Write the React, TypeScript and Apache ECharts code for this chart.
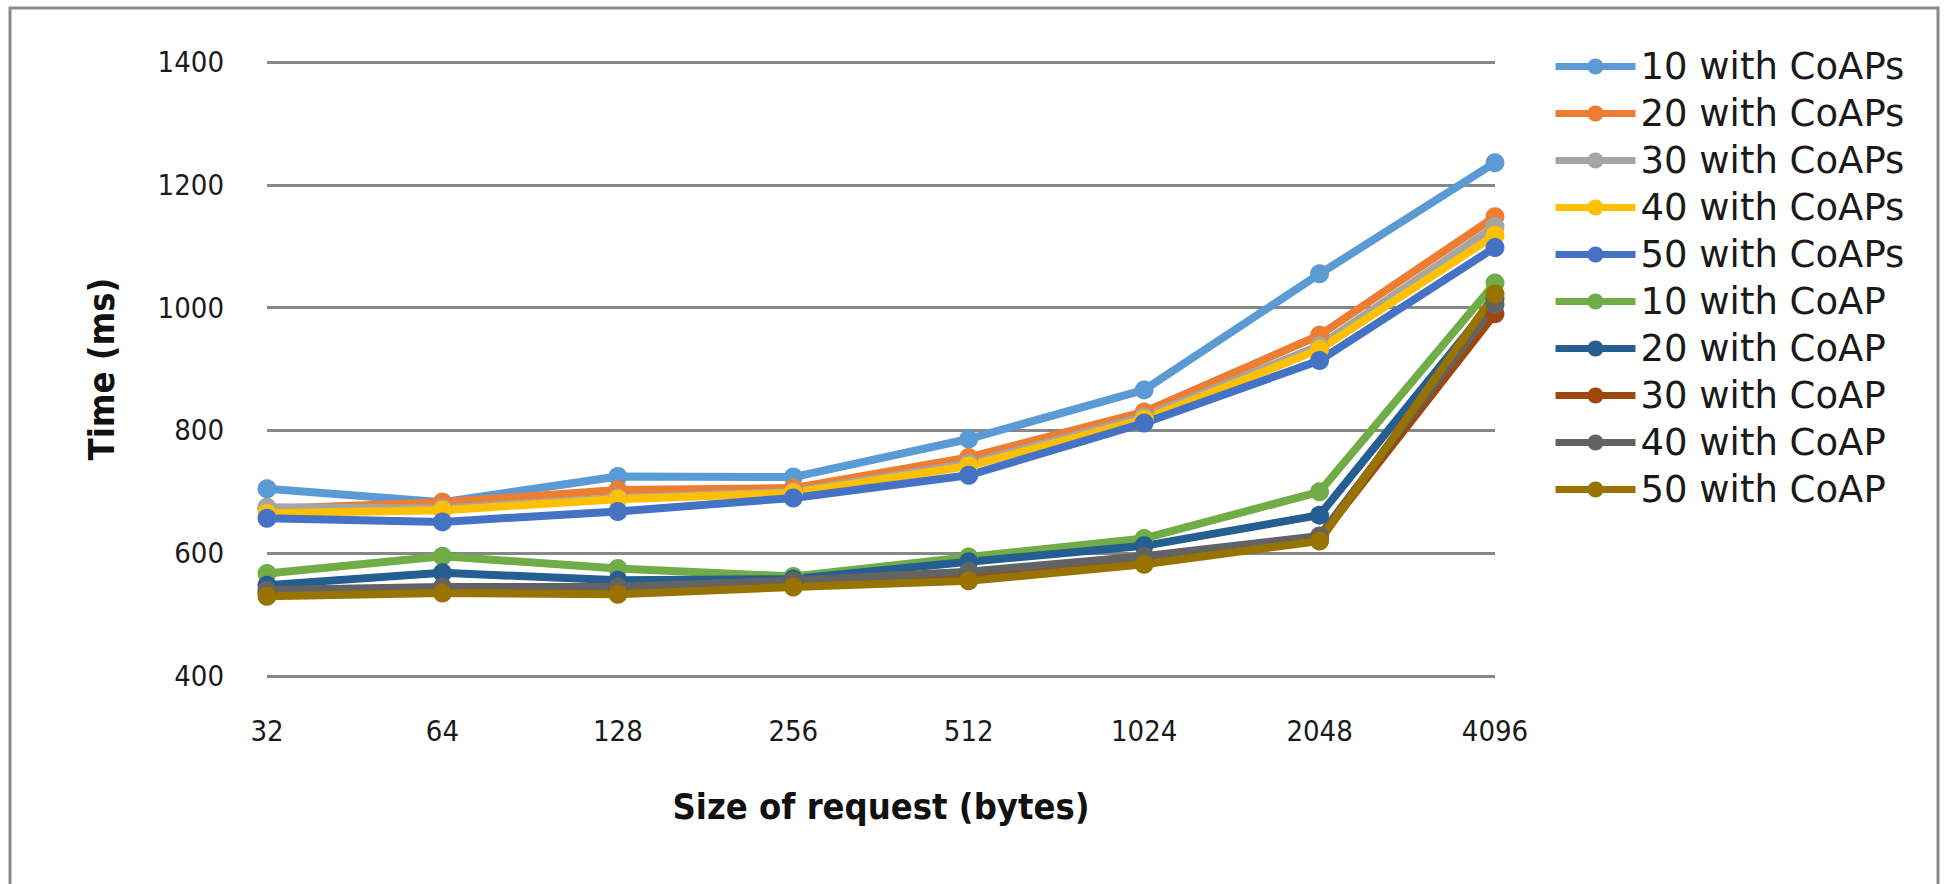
import React, { useEffect, useRef } from "react";
import * as echarts from "echarts";

const categories = ["32", "64", "128", "256", "512", "1024", "2048", "4096"];

const seriesNames = [
  "10 with CoAPs",
  "20 with CoAPs",
  "30 with CoAPs",
  "40 with CoAPs",
  "50 with CoAPs",
  "10 with CoAP",
  "20 with CoAP",
  "30 with CoAP",
  "40 with CoAP",
  "50 with CoAP",
];

const s10CoAPs = [705, 683, 725, 724, 786, 866, 1055, 1236];
const s20CoAPs = [672, 683, 703, 706, 756, 830, 955, 1148];
const s30CoAPs = [675, 673, 690, 700, 746, 822, 938, 1132];
const s40CoAPs = [665, 670, 688, 698, 742, 818, 932, 1118];
const s50CoAPs = [657, 651, 668, 690, 727, 812, 914, 1098];
const s10CoAP = [567, 595, 575, 562, 594, 624, 700, 1040];
const s20CoAP = [548, 568, 556, 558, 586, 612, 662, 1015];
const s30CoAP = [535, 540, 540, 552, 565, 590, 624, 990];
const s40CoAP = [540, 545, 545, 555, 570, 595, 628, 1005];
const s50CoAP = [530, 535, 533, 545, 555, 582, 620, 1022];

const seriesData = [
  s10CoAPs, s20CoAPs, s30CoAPs, s40CoAPs, s50CoAPs,
  s10CoAP, s20CoAP, s30CoAP, s40CoAP, s50CoAP,
];

const colors = [
  "#5B9BD5", "#ED7D31", "#A5A5A5", "#FFC000", "#4472C4",
  "#70AD47", "#255E91", "#9E480E", "#636363", "#997300",
];

const yMin = 400;
const yMax = 1400;
const yInterval = 200;

export default function App() {
  const ref = useRef<HTMLDivElement>(null);
  useEffect(() => {
    if (!ref.current) return;
    const chart = echarts.init(ref.current, undefined, { renderer: "svg" });
    const narrow = "'Liberation Sans Narrow', 'DejaVu Sans Condensed', 'Liberation Sans', sans-serif";
    chart.setOption({
      animation: false,
      backgroundColor: "#ffffff",
      color: colors,
      graphic: [
        {
          type: "rect",
          shape: { x: 10, y: 8, width: 1928, height: 900 },
          style: { fill: "none", stroke: "#8a8a8a", lineWidth: 3 },
          silent: true,
          z: 0,
        },
      ],
      grid: { left: 267, right: 451, top: 62, bottom: 208, containLabel: false },
      legend: {
        orient: "vertical",
        left: 1547,
        top: 43,
        itemWidth: 80,
        itemHeight: 20,
        itemGap: 10,
        data: seriesNames,
        lineStyle: { width: 7 },
        textStyle: {
          fontFamily: "'DejaVu Sans', sans-serif",
          fontSize: 37,
          lineHeight: 34,
          color: "#1a1a1a",
        },
      },
      xAxis: {
        type: "category",
        data: categories,
        boundaryGap: false,
        axisLine: { show: false },
        axisTick: { show: false },
        axisLabel: {
          margin: 40,
          fontFamily: narrow,
          fontSize: 29,
          color: "#1a1a1a",
        },
        name: "Size of request (bytes)",
        nameLocation: "middle",
        nameGap: 112,
        nameTextStyle: {
          fontFamily: narrow,
          fontWeight: "bold",
          fontSize: 36,
          color: "#111",
        },
      },
      yAxis: {
        type: "value",
        min: yMin,
        max: yMax,
        interval: yInterval,
        axisLine: { show: false },
        axisTick: { show: false },
        splitLine: { lineStyle: { color: "#878787", width: 3 } },
        axisLabel: {
          margin: 43,
          fontFamily: narrow,
          fontSize: 29,
          color: "#1a1a1a",
          formatter: (v: number) => String(v),
        },
        name: "Time (ms)",
        nameLocation: "middle",
        nameGap: 148,
        nameTextStyle: {
          fontFamily: narrow,
          fontWeight: "bold",
          fontSize: 36,
          color: "#111",
        },
      },
      series: seriesNames.map((name, i) => ({
        name,
        type: "line",
        data: seriesData[i],
        symbol: "circle",
        symbolSize: 19,
        lineStyle: { width: 8, color: colors[i] },
        itemStyle: { color: colors[i] },
      })),
    });
    return () => chart.dispose();
  }, []);
  return (
    <div
      ref={ref}
      style={{ position: "fixed", left: 0, top: 0, width: 1946, height: 884 }}
    />
  );
}
